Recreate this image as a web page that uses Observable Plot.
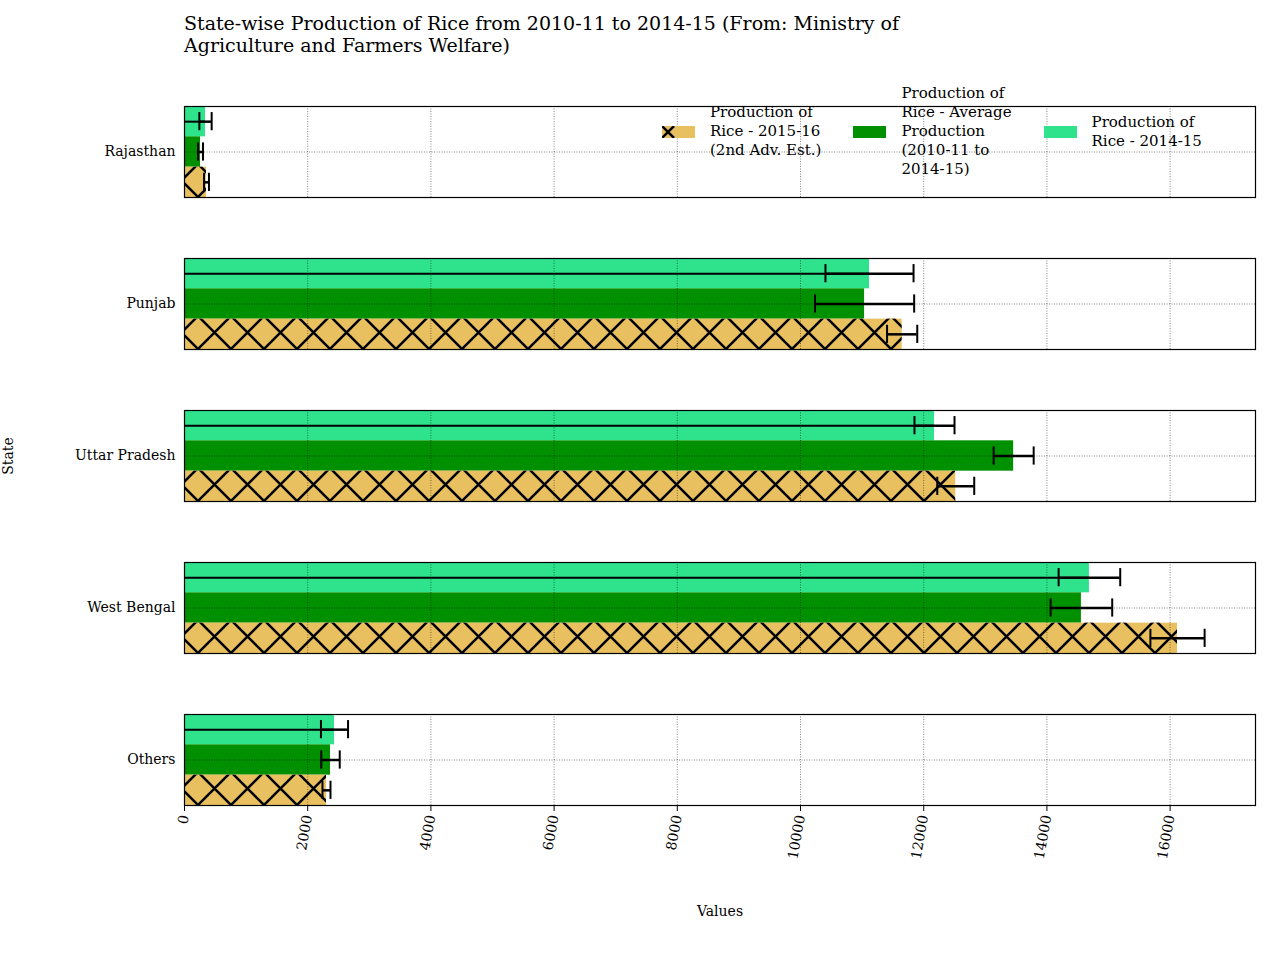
<!DOCTYPE html>
<html><head><meta charset="utf-8">
<script src="https://cdn.jsdelivr.net/npm/d3@7"></script>
<script src="https://cdn.jsdelivr.net/npm/@observablehq/plot@0.6"></script>
<style>
body{margin:0;background:#fff;font-family:"DejaVu Serif",serif;}
#wrap{position:relative;width:1280px;}
#title{height:62px;box-sizing:border-box;padding:12px 0 0 184px;font-size:19px;line-height:22px;width:1000px;}
#legend{position:absolute;top:84px;left:662px;font-size:15px;line-height:19px;display:flex;}
.it{display:flex;align-items:center;}
.sw{width:33px;height:12px;margin-right:15px;}
</style></head><body>
<div id="wrap">
<div id="title">State-wise Production of Rice from 2010-11 to 2014-15 (From: Ministry of Agriculture and Farmers Welfare)</div>
<div id="chart"></div>
<div id="legend">
 <div class="it" style="margin-right:32px"><svg class="sw" width="33" height="12"><rect width="33" height="12" fill="#e8c060"/><path d="M0,0L12,12M12,0L0,12" stroke="#000" stroke-width="2.5"/></svg><div>Production of<br>Rice - 2015-16<br>(2nd Adv. Est.)</div></div>
 <div class="it" style="margin-right:32px"><div class="sw" style="background:#009000"></div><div>Production of<br>Rice - Average<br>Production<br>(2010-11 to<br>2014-15)</div></div>
 <div class="it"><div class="sw" style="background:#2ee38c"></div><div>Production of<br>Rice - 2014-15</div></div>
</div>
</div>
<script>
const states = ["Rajasthan","Punjab","Uttar Pradesh","West Bengal","Others"];
const prod1415 = [341, 11120, 12175, 14690, 2435];
const err1415 = [100, 715, 325, 500, 220];
const prodAvg = [260, 11040, 13460, 14560, 2370];
const errAvg = [40, 805, 325, 500, 150];
const prod1516 = [357, 11650, 12520, 16120, 2305];
const err1516 = [40, 245, 300, 440, 65];
const xTicks = [0,2000,4000,6000,8000,10000,12000,14000,16000];

const series = [
  {key:"lg", vals:prod1415, errs:err1415, pos:0, fill:"#2ee38c"},
  {key:"g", vals:prodAvg, errs:errAvg, pos:1, fill:"#009000"},
  {key:"y", vals:prod1516, errs:err1516, pos:2, fill:"url(#hatch)"}
];
const rows = [];
for (const s of series) states.forEach((st,i)=>rows.push({state:st, v:s.vals[i], e:s.errs[i], y1:s.pos, y2:s.pos+1, yc:s.pos+0.5, fill:s.fill, key:s.key}));

const plot = Plot.plot({
  width:1280, height:898,
  marginLeft:184, marginRight:25, marginTop:8, marginBottom:119,
  style:{fontFamily:"DejaVu Serif, serif", fontSize:"14px", color:"#000"},
  x:{domain:[0,17386], ticks:xTicks, tickFormat:d=>String(d), tickRotate:-80, label:"Values", labelAnchor:"center", labelArrow:"none", labelOffset:110},
  y:{domain:[3,0], axis:null},
  fy:{domain:states, paddingInner:0.4, paddingOuter:0.235, label:"State", labelAnchor:"center", labelArrow:"none"},
  marks:[
    Plot.rect(rows,{fy:"state", x1:0, x2:"v", y1:"y1", y2:"y2", fill:d=>d.key==="y"?"#e8c060":d.fill}),
    Plot.rect(rows.filter(d=>d.key==="y"),{fy:"state", x1:0, x2:"v", y1:"y1", y2:"y2", fill:"url(#hatch)"}),
    Plot.gridX(xTicks,{stroke:"#000", strokeOpacity:0.8, strokeDasharray:"1,1.5", strokeWidth:0.6, facetAnchor:null}),
    Plot.ruleY(states.map(s=>({state:s})),{fy:"state", y:1.5, x1:0, x2:17386, stroke:"#000", strokeOpacity:0.8, strokeDasharray:"1,1.5", strokeWidth:0.6}),
    Plot.ruleY(rows.filter(d=>d.key==="lg"),{fy:"state", y:"yc", x1:0, x2:"v", stroke:"#000", strokeWidth:2}),
    Plot.ruleY(rows,{fy:"state", y:"yc", x1:d=>d.v-d.e, x2:d=>d.v+d.e, stroke:"#000", strokeWidth:2.5}),
    Plot.ruleX(rows,{fy:"state", x:d=>d.v-d.e, y1:d=>d.yc-0.3, y2:d=>d.yc+0.3, stroke:"#000", strokeWidth:2}),
    Plot.ruleX(rows,{fy:"state", x:d=>d.v+d.e, y1:d=>d.yc-0.3, y2:d=>d.yc+0.3, stroke:"#000", strokeWidth:2}),
    Plot.frame({stroke:"#000", strokeWidth:1.2, facetAnchor:null})
  ]
});
const svg = d3.select(plot);
const defs = svg.insert("defs",":first-child");
const p = defs.append("pattern").attr("id","hatch").attr("patternUnits","userSpaceOnUse").attr("width",33).attr("height",33);
p.append("path").attr("d","M0,0L33,33M33,0L0,33M-2,31L2,35M31,-2L35,2").attr("stroke","#000").attr("stroke-width",2.5);
document.getElementById("chart").appendChild(plot);
</script>
</body></html>
